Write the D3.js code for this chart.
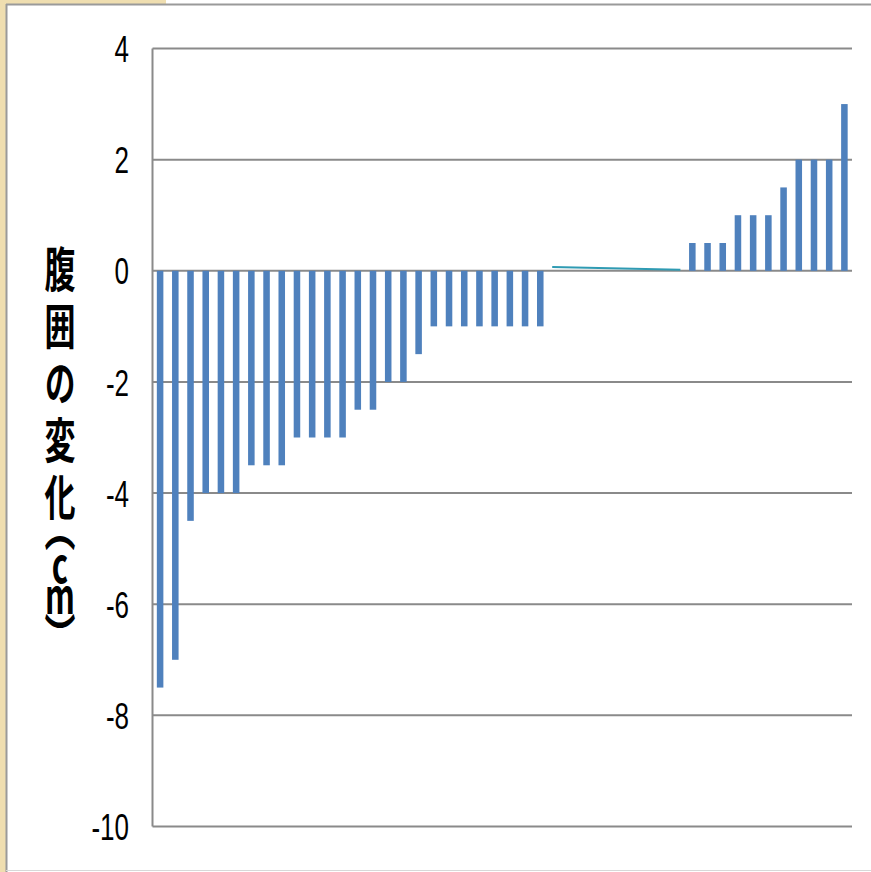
<!DOCTYPE html>
<html>
<head>
<meta charset="utf-8">
<script src="https://cdn.jsdelivr.net/npm/d3@7"></script>
<style>
  body { margin: 0; background: #fff; }
  svg { display: block; }
</style>
</head>
<body>
<div id="chart"></div>
<script>
// waist change per subject (cm), sorted
const values = [-7.5, -7, -4.5, -4, -4, -4, -3.5, -3.5, -3.5, -3, -3, -3, -3, -2.5, -2.5,
  -2, -2, -1.5, -1, -1, -1, -1, -1, -1, -1, -1,
  0, 0, 0, 0, 0, 0, 0, 0, 0,
  0.5, 0.5, 0.5, 1, 1, 1, 1.5, 2, 2, 2, 3];
const categories = values.map((d, i) => i + 1);
const yTicks = [4, 2, 0, -2, -4, -6, -8, -10];
// stray thin line drawn over the zero-valued subjects
const lineCats = [27, 35];
const lineVals = [0.05, 0];
const yTitle = "腹囲の変化（cm）";

const width = 871, height = 872;
const plot = { left: 152.5, right: 852, top: 48.5, bottom: 826.5 };
const sy = 1.55; // vertical stretch of the source image

const svg = d3.select("#chart").append("svg")
  .attr("width", width)
  .attr("height", height);

// slide frame
svg.append("rect").attr("x", 0).attr("y", 0).attr("width", 6).attr("height", height).attr("fill", "#efdeb0");
svg.append("rect").attr("x", 0).attr("y", 0).attr("width", 166).attr("height", 4).attr("fill", "#efdeb0");
svg.append("line").attr("x1", 6.5).attr("x2", 6.5).attr("y1", 4).attr("y2", height)
  .attr("stroke", "#9a9a9a").attr("stroke-width", 2);
svg.append("line").attr("x1", 6).attr("x2", width).attr("y1", 4.5).attr("y2", 4.5)
  .attr("stroke", "#9a9a9a").attr("stroke-width", 2);
svg.append("line").attr("x1", 6).attr("x2", width).attr("y1", 870.5).attr("y2", 870.5)
  .attr("stroke", "#d8d8d8").attr("stroke-width", 1);

const x = d3.scaleBand()
  .domain(categories)
  .range([plot.left, plot.right])
  .paddingInner(0.57)
  .paddingOuter(0.285);

const y = d3.scaleLinear()
  .domain([-10, 4])
  .range([plot.bottom, plot.top]);

// gridlines
svg.append("g")
  .selectAll("line")
  .data(yTicks)
  .join("line")
  .attr("x1", plot.left)
  .attr("x2", plot.right)
  .attr("y1", d => y(d))
  .attr("y2", d => y(d))
  .attr("stroke", "#8a8a8a")
  .attr("stroke-width", 2);

// y axis line
svg.append("line")
  .attr("x1", plot.left).attr("x2", plot.left)
  .attr("y1", y(4)).attr("y2", y(-10))
  .attr("stroke", "#8a8a8a").attr("stroke-width", 2);

// tick labels
svg.append("g")
  .selectAll("text")
  .data(yTicks)
  .join("text")
  .attr("transform", d => `translate(129,${y(d)}) scale(1,1.45)`)
  .attr("dy", "0.36em")
  .attr("text-anchor", "end")
  .style("font-family", "'Liberation Sans Narrow', 'Liberation Sans', sans-serif")
  .style("font-size", "26px")
  .style("fill", "#000")
  .text(d => d);

// bars
svg.append("g")
  .selectAll("rect")
  .data(values)
  .join("rect")
  .attr("x", (d, i) => x(categories[i]))
  .attr("width", x.bandwidth())
  .attr("y", d => y(Math.max(0, d)))
  .attr("height", d => Math.abs(y(d) - y(0)))
  .attr("fill", "#4f81bd");

// thin teal line
svg.append("line")
  .attr("x1", x(lineCats[0]))
  .attr("x2", x(lineCats[1]) + x.bandwidth())
  .attr("y1", y(lineVals[0]) - 1)
  .attr("y2", y(lineVals[1]) - 1)
  .attr("stroke", "#2f9bb3")
  .attr("stroke-width", 2);

// vertical y-axis title
svg.append("text")
  .attr("transform", `scale(1,${sy})`)
  .attr("x", 60)
  .attr("y", 245 / sy)
  .attr("dy", "0 0 0 0 0 -17 -13 -16.5 -11.5")
  .style("writing-mode", "vertical-rl")
  .style("text-orientation", "upright")
  .style("letter-spacing", "5.8px")
  .style("font-family", "'Noto Sans CJK JP', sans-serif")
  .style("font-weight", "bold")
  .style("font-size", "31px")
  .style("fill", "#000")
  .text(yTitle);
</script>
</body>
</html>
